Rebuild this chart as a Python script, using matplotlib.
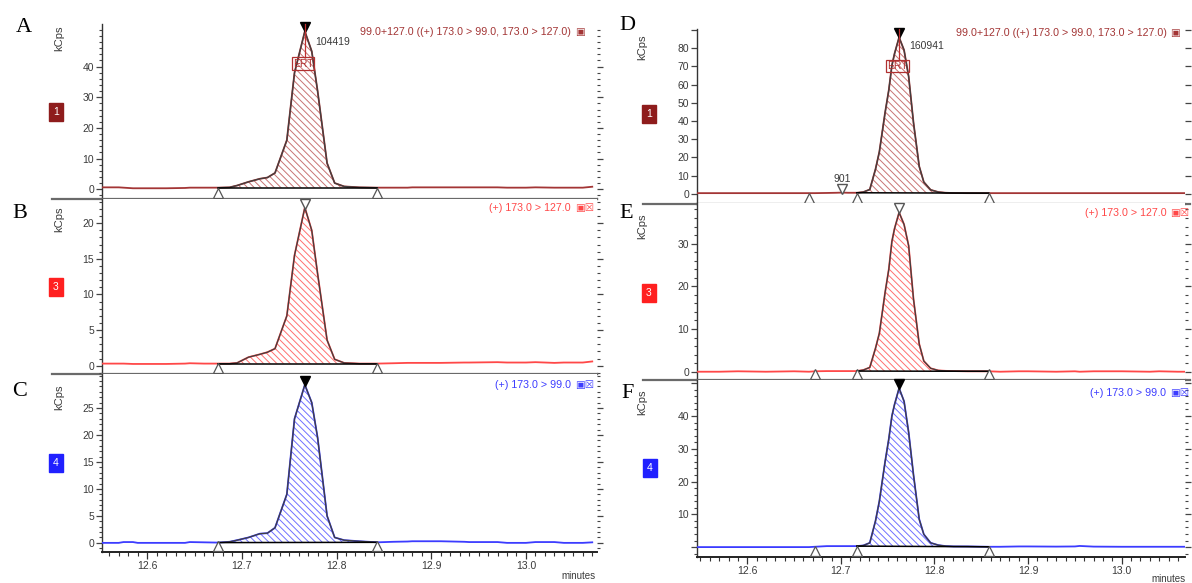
import numpy as np
import matplotlib
matplotlib.use("Agg")
import matplotlib.pyplot as plt
from matplotlib.ticker import FixedLocator, FixedFormatter, MultipleLocator, NullLocator
from matplotlib.transforms import offset_copy
from matplotlib.lines import Line2D

plt.rcParams['font.family'] = ['Liberation Sans Narrow', 'Liberation Sans', 'DejaVu Sans']
plt.rcParams['hatch.linewidth'] = 0.7

# ---------------- data ----------------
# left column (A: sum, B: 173>127, C: 173>99), minutes / kcps
t_left = [12.553, 12.57, 12.575, 12.585, 12.59, 12.62, 12.64, 12.645, 12.66, 12.675,
          12.687, 12.695, 12.707, 12.719, 12.727, 12.735, 12.7475, 12.7556, 12.7665, 12.7738,
          12.78, 12.79, 12.798, 12.808, 12.824, 12.843, 12.86, 12.875, 12.88, 12.9,
          12.91, 12.935, 12.94, 12.97, 12.98, 13.0, 13.01, 13.03, 13.04, 13.06, 13.07]
a_kcps = [0.6, 0.6, 0.5, 0.3, 0.3, 0.3, 0.4, 0.5, 0.5, 0.5,
          0.6, 1.2, 2.4, 3.4, 3.8, 5.3, 16.0, 38.0, 51.5, 45.0,
          32.0, 8.5, 2.0, 0.9, 0.6, 0.5, 0.5, 0.5, 0.6, 0.6,
          0.6, 0.6, 0.6, 0.6, 0.5, 0.5, 0.6, 0.5, 0.5, 0.5, 0.8]
b_kcps = [0.3, 0.3, 0.3, 0.25, 0.25, 0.25, 0.3, 0.35, 0.3, 0.3,
          0.3, 0.4, 1.2, 1.6, 1.9, 2.4, 7.0, 15.5, 22.2, 19.0,
          12.9, 3.6, 0.9, 0.4, 0.3, 0.3, 0.35, 0.4, 0.4, 0.4,
          0.4, 0.45, 0.45, 0.5, 0.45, 0.45, 0.5, 0.4, 0.45, 0.45, 0.6]
c_kcps = [0.0, 0.0, 0.15, 0.15, 0.0, 0.0, 0.0, 0.15, 0.1, 0.05,
          0.2, 0.5, 1.0, 1.7, 1.8, 2.8, 9.0, 23.0, 29.3, 26.0,
          19.5, 5.0, 1.0, 0.5, 0.3, 0.1, 0.2, 0.25, 0.3, 0.3,
          0.3, 0.2, 0.15, 0.15, 0.0, 0.0, 0.15, 0.15, 0.0, 0.0, 0.1]

# right column (D: sum, E: 173>127, F: 173>99)
t_right = [12.546, 12.57, 12.59, 12.62, 12.65, 12.666, 12.672, 12.685, 12.695, 12.701,
           12.708, 12.717, 12.724, 12.7309, 12.737, 12.7411, 12.7472, 12.7512, 12.7545, 12.7573,
           12.7622, 12.7675, 12.7724, 12.7776, 12.7837, 12.7886, 12.7959, 12.8041, 12.812, 12.8203,
           12.835, 12.858, 12.87, 12.89, 12.9, 12.93, 12.95, 12.955, 12.97, 13.0,
           13.03, 13.04, 13.06, 13.067]
d_kcps = [0.3, 0.3, 0.3, 0.3, 0.3, 0.3, 0.3, 0.4, 0.5, 0.6,
          0.5, 0.5, 0.9, 2.3, 13.5, 23.0, 44.5, 57.0, 70.5, 77.0,
          86.0, 79.0, 64.5, 39.0, 15.0, 6.4, 2.1, 0.9, 0.5, 0.35,
          0.3, 0.3, 0.3, 0.3, 0.3, 0.3, 0.3, 0.3, 0.3, 0.3,
          0.3, 0.3, 0.3, 0.3]
e_kcps = [0.0, 0.0, 0.1, 0.0, 0.1, 0.0, 0.1, 0.15, 0.15, 0.15,
          0.15, 0.15, 0.4, 1.0, 5.5, 9.0, 18.5, 24.0, 30.5, 33.5,
          37.3, 34.5, 29.5, 17.0, 6.5, 2.5, 0.8, 0.3, 0.2, 0.15,
          0.1, 0.1, 0.0, 0.1, 0.1, 0.0, 0.1, 0.0, 0.1, 0.1,
          0.0, 0.1, 0.0, 0.0]
f_kcps = [0.0, 0.0, 0.0, 0.0, 0.0, 0.0, 0.1, 0.3, 0.3, 0.3,
          0.3, 0.3, 0.5, 1.3, 8.0, 14.0, 26.0, 33.0, 40.0, 43.5,
          48.5, 44.5, 35.0, 22.0, 8.5, 3.9, 1.3, 0.6, 0.3, 0.2,
          0.2, 0.1, 0.1, 0.2, 0.2, 0.15, 0.2, 0.35, 0.15, 0.1,
          0.1, 0.1, 0.1, 0.1]

# integration limits (minutes)
left_peak = [12.675, 12.843]
left_markers = [12.675, 12.843]
right_peak = [12.717, 12.858]
d_markers = [12.666, 12.717, 12.858]
ef_markers = [12.672, 12.717, 12.858]
minor_peak_time = 12.701
minor_peak_label = "901"
area_a = "104419"
area_d = "160941"

x_ticks = [12.6, 12.7, 12.8, 12.9, 13.0]
x_tick_labels = ["12.6", "12.7", "12.8", "12.9", "13.0"]

sum_label = "99.0+127.0 ((+) 173.0 > 99.0, 173.0 > 127.0)"
q_label = "(+) 173.0 > 127.0"
c_label = "(+) 173.0 > 99.0"

# ---------------- figure ----------------
W, H = 1192, 583
fig = plt.figure(figsize=(W / 100, H / 100), dpi=100)
fig.patch.set_facecolor('white')


def make_axes(left, top, right, bottom):
    return fig.add_axes([left / W, 1 - bottom / H, (right - left) / W, (bottom - top) / H])


DARKRED = '#a33535'
RED = '#ff4848'
BLUE = '#3c3cff'
TXT = '#3a3a3a'


def draw_panel(ax, t, y, color, hatch_color, xlim, ylim, yt, ytl, yminor,
               region, markers, peak_style, bottom_axis):
    t = np.asarray(t, float)
    y = np.asarray(y, float)
    ax.set_xlim(xlim)
    ax.set_ylim(ylim)
    ax.set_facecolor('white')
    ax.plot(t, y, color=color, lw=1.3, zorder=3)
    s, e = region
    ys0, ye0 = np.interp(s, t, y), np.interp(e, t, y)
    tt = np.concatenate([[s], t[(t > s) & (t < e)], [e]])
    yy = np.interp(tt, t, y)
    base = np.interp(tt, [s, e], [ys0, ye0])
    ax.fill_between(tt, base, yy, facecolor='none', edgecolor=hatch_color,
                    hatch='\\\\\\\\\\', linewidth=0, zorder=2)
    ax.plot(tt, yy, color='#404040', lw=0.9, zorder=4)
    ax.plot([s, e], [ys0, ye0], color='black', lw=1.1, zorder=4)
    # integration markers on the baseline
    ax.plot(markers, [0.032] * len(markers), transform=ax.get_xaxis_transform(),
            ls='none', marker='^', ms=7.5, mfc='white', mec='#555555', mew=0.9,
            clip_on=False, zorder=6)
    # apex marker
    i = int(np.argmax(y))
    tr = offset_copy(ax.transData, fig=fig, y=4, units='dots')
    if peak_style == 'filled':
        ax.plot([t[i]], [y[i]], transform=tr, marker='v', ms=7, color='black',
                ls='none', clip_on=False, zorder=7)
    else:
        ax.plot([t[i]], [y[i]], transform=tr, marker='v', ms=7, mfc='white',
                mec='#555555', ls='none', clip_on=False, zorder=7)
    # y axis
    ax.yaxis.set_major_locator(FixedLocator(yt))
    ax.yaxis.set_major_formatter(FixedFormatter(ytl))
    if yminor:
        ax.yaxis.set_minor_locator(MultipleLocator(yminor))
    ax.tick_params(axis='y', which='both', direction='out', left=True, right=True,
                   labelleft=True, labelright=False, labelsize=7.5, labelcolor=TXT,
                   color='#444444', pad=1.5)
    ax.tick_params(axis='y', which='major', length=4, width=0.9)
    ax.tick_params(axis='y', which='minor', length=2.5, width=0.8)
    for sp in ('top', 'right'):
        ax.spines[sp].set_visible(False)
    ax.spines['left'].set_color('#333333')
    ax.spines['left'].set_linewidth(1.0)
    if bottom_axis:
        ax.set_xticks(x_ticks)
        ax.set_xticklabels(x_tick_labels)
        ax.xaxis.set_minor_locator(MultipleLocator(0.01))
        ax.tick_params(axis='x', which='both', direction='out', labelsize=7.5,
                       labelcolor=TXT, color='#333333', pad=2)
        ax.tick_params(axis='x', which='major', length=5, width=0.9)
        ax.tick_params(axis='x', which='minor', length=3, width=0.8)
        ax.spines['bottom'].set_color('#222222')
        ax.spines['bottom'].set_linewidth(1.4)
    else:
        ax.xaxis.set_major_locator(NullLocator())
        ax.xaxis.set_minor_locator(NullLocator())
        ax.spines['bottom'].set_color('#6a6a6a')
        ax.spines['bottom'].set_linewidth(1.6)
    return t[i], y[i]


xl_left = (12.552, 13.0747)
xl_right = (12.546, 13.0676)

axA = make_axes(101.7, 24, 596.7, 199)
axB = make_axes(101.7, 199, 596.7, 374)
axC = make_axes(101.7, 374, 596.7, 551.5)
axD = make_axes(696.7, 29, 1185, 203.5)
axE = make_axes(696.7, 203.5, 1185, 380)
axF = make_axes(696.7, 380, 1185, 556.7)

pkA = draw_panel(axA, t_left, a_kcps, DARKRED, '#c87474', xl_left, (-3.2, 53.9),
                 [0, 10, 20, 30, 40], ['0', '10', '20', '30', '40'], 2,
                 left_peak, left_markers, 'filled', False)
draw_panel(axB, t_left, b_kcps, RED, '#ff7070', xl_left, (-1.16, 23.4),
           [0, 5, 10, 15, 20], ['0', '5', '10', '15', '20'], 1,
           left_peak, left_markers, 'open', False)
draw_panel(axC, t_left, c_kcps, BLUE, '#7070ff', xl_left, (-1.6, 31.3),
           [0, 5, 10, 15, 20, 25], ['0', '5', '10', '15', '20', '25'], 1,
           left_peak, left_markers, 'filled', True)
pkD = draw_panel(axD, t_right, d_kcps, DARKRED, '#c87474', xl_right, (-5.4, 90.6),
                 [0, 10, 20, 30, 40, 50, 60, 70, 80, 90],
                 ['0', '10', '20', '30', '40', '50', '60', '70', '80', ''], None,
                 right_peak, d_markers, 'filled', False)
draw_panel(axE, t_right, e_kcps, RED, '#ff7070', xl_right, (-1.94, 39.4),
           [0, 10, 20, 30], ['0', '10', '20', '30'], 2,
           right_peak, ef_markers, 'open', False)
draw_panel(axF, t_right, f_kcps, BLUE, '#7070ff', xl_right, (-2.93, 51.0),
           [0, 10, 20, 30, 40, 50], ['', '10', '20', '30', '40', ''], 2,
           right_peak, ef_markers, 'filled', True)

# ERT markers and peak annotations
for ax, pk, ert_y, area, area_y in ((axA, pkA, 41.0, area_a, 48.0),
                                     (axD, pkD, 70.0, area_d, 81.0)):
    lo, top = ax.get_ylim()
    ax.plot([pk[0], pk[0]], [ert_y + 0.045 * (top - lo), top],
            color='#c03030', lw=0.9, zorder=8, clip_on=False)
    ax.text(pk[0] - 0.002, ert_y, 'ERT', fontsize=7.5, color='#b03030', ha='center',
            va='center', zorder=9,
            bbox=dict(boxstyle='square,pad=0.1', fc='none', ec='#b03030', lw=0.9))
    ax.text(pk[0] + 0.011, area_y, area, fontsize=7.5, color=TXT, ha='left', va='center',
            zorder=9)

# minor peak in D
axD.plot([minor_peak_time], [np.interp(minor_peak_time, t_right, d_kcps) + 2.2],
         marker='v', ms=6.5, mfc='white', mec='#555555', ls='none', zorder=7)
axD.text(minor_peak_time, 8.0, minor_peak_label, fontsize=7.5, color=TXT,
         ha='center', va='center')

# trace titles (top right of each panel)
titles = [(axA, sum_label, DARKRED, 0.954, '▣'),
          (axB, q_label, RED, 0.949, '▣☒'),
          (axC, c_label, BLUE, 0.938, '▣☒'),
          (axD, sum_label, DARKRED, 0.977, '▣'),
          (axE, q_label, RED, 0.944, '▣☒'),
          (axF, c_label, BLUE, 0.927, '▣☒')]
for ax, txt, col, yy, icon in titles:
    right_edge = 0.948 if ax in (axA, axB, axC) else 0.962
    ax.text(right_edge, yy, txt, transform=ax.transAxes, fontsize=7.7, color=col,
            ha='right', va='center')
    ax.text(right_edge + 0.008, yy, icon, transform=ax.transAxes, fontsize=7.5,
            color=col, ha='left', va='center', family=['DejaVu Sans'])

# kCps axis labels
for x, y in ((59, 38), (59, 219), (59, 397), (642, 47), (642, 226), (642, 402)):
    fig.text(x / W, 1 - y / H, 'kCps', rotation=90, fontsize=8, color=TXT,
             ha='center', va='center')

# channel boxes
for x, y, lab, col in ((56, 112, '1', '#8e1c1c'), (56, 287, '3', '#ff2020'),
                       (56, 463, '4', '#2020ff'), (649, 114, '1', '#8e1c1c'),
                       (649, 293, '3', '#ff2020'), (650, 468, '4', '#2020ff')):
    fig.text(x / W, 1 - y / H, lab, fontsize=7.5, color='white', ha='center',
             va='center',
             bbox=dict(boxstyle='square,pad=0.35', fc=col, ec=col, lw=1.0))

# panel letters
for x, y, lab in ((24, 27, 'A'), (20, 213, 'B'), (20, 392, 'C'),
                  (627, 25, 'D'), (626, 213, 'E'), (628, 394, 'F')):
    fig.text(x / W, 1 - y / H, lab, fontsize=16, family=['Liberation Serif', 'DejaVu Serif'],
             color='black', ha='center', va='center')

# "minutes"
fig.text(578 / W, 1 - 576 / H, 'minutes', fontsize=7, color=TXT, ha='center', va='center')
fig.text(1168 / W, 1 - 579 / H, 'minutes', fontsize=7, color=TXT, ha='center', va='center')

# separator lines extending left of the axes
for x0, x1, y in ((52, 597, 199), (52, 597, 374), (643, 1190, 203.5), (643, 1190, 380)):
    fig.add_artist(Line2D([x0 / W, x1 / W], [1 - y / H, 1 - y / H], color='#6a6a6a',
                          lw=1.6, zorder=0))

fig.savefig('out.png', dpi=100, facecolor='white')
